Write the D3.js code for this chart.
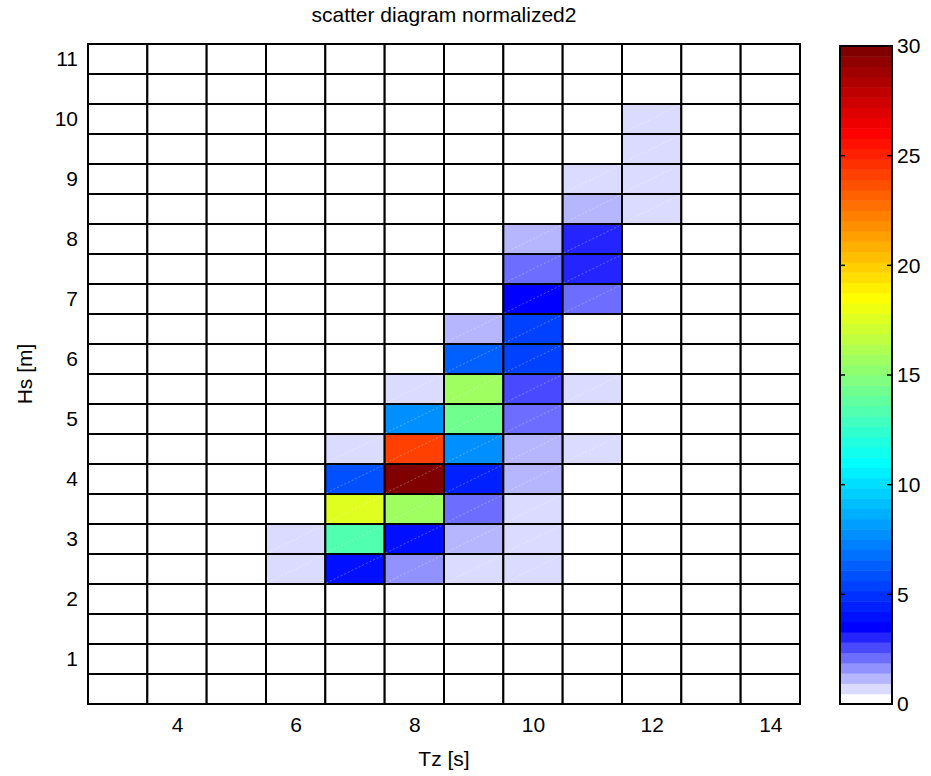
<!DOCTYPE html>
<html>
<head>
<meta charset="utf-8">
<script src="https://cdn.jsdelivr.net/npm/d3@7"></script>
<style>
  body { margin: 0; background: #fff; }
  text { font-family: "Liberation Sans", Arial, sans-serif; fill: #000; }
</style>
</head>
<body>
<div id="chart"></div>
<script>
const tzValues = [3, 4, 5, 6, 7, 8, 9, 10, 11, 12, 13, 14];
const hsValues = [11, 10.5, 10, 9.5, 9, 8.5, 8, 7.5, 7, 6.5, 6, 5.5, 5, 4.5, 4, 3.5, 3, 2.5, 2, 1.5, 1, 0.5];
// one row per Hs class (top to bottom), one column per Tz
const frequency = [
    [0, 0, 0, 0,   0,    0,    0,   0,   0,   0,   0, 0],  // 11
    [0, 0, 0, 0,   0,    0,    0,   0,   0,   0,   0, 0],  // 10.5
    [0, 0, 0, 0,   0,    0,    0,   0,   0,   0.7, 0, 0],  // 10
    [0, 0, 0, 0,   0,    0,    0,   0,   0,   0.7, 0, 0],  // 9.5
    [0, 0, 0, 0,   0,    0,    0,   0,   0.7, 0.7, 0, 0],  // 9
    [0, 0, 0, 0,   0,    0,    0,   0,   1.2, 0.7, 0, 0],  // 8.5
    [0, 0, 0, 0,   0,    0,    0,   1.2, 3.0, 0,   0, 0],  // 8
    [0, 0, 0, 0,   0,    0,    0,   2.1, 3.0, 0,   0, 0],  // 7.5
    [0, 0, 0, 0,   0,    0,    0,   3.5, 2.1, 0,   0, 0],  // 7
    [0, 0, 0, 0,   0,    0,    1.2, 5.4, 0,   0,   0, 0],  // 6.5
    [0, 0, 0, 0,   0,    0,    6.3, 5.4, 0,   0,   0, 0],  // 6
    [0, 0, 0, 0,   0,    0.7, 15.7, 2.6, 0.7, 0,   0, 0],  // 5.5
    [0, 0, 0, 0,   0,    7.7, 14.3, 2.1, 0,   0,   0, 0],  // 5
    [0, 0, 0, 0,   0.7, 24.1,  7.7, 1.2, 0.7, 0,   0, 0],  // 4.5
    [0, 0, 0, 0,   5.9, 29.9,  4.5, 1.2, 0,   0,   0, 0],  // 4
    [0, 0, 0, 0,  17.6, 15.7,  2.1, 0.7, 0,   0,   0, 0],  // 3.5
    [0, 0, 0, 0.7, 13.4, 4.0,  1.2, 0.7, 0,   0,   0, 0],  // 3
    [0, 0, 0, 0.7,  4.0, 1.6,  0.7, 0.7, 0,   0,   0, 0],  // 2.5
    [0, 0, 0, 0,   0,    0,    0,   0,   0,   0,   0, 0],  // 2
    [0, 0, 0, 0,   0,    0,    0,   0,   0,   0,   0, 0],  // 1.5
    [0, 0, 0, 0,   0,    0,    0,   0,   0,   0,   0, 0],  // 1
    [0, 0, 0, 0,   0,    0,    0,   0,   0,   0,   0, 0]   // 0.5
];
const xTicks = [4, 6, 8, 10, 12, 14];
const yTicks = [1, 2, 3, 4, 5, 6, 7, 8, 9, 10, 11];
const cbTicks = [0, 5, 10, 15, 20, 25, 30];
const chartTitle = 'scatter diagram normalized2';
const xTitle = 'Tz [s]';
const yTitle = 'Hs [m]';

const width = 931, height = 776;
const fontSize = 21;

// 64 level map: white -> blue ramp for the first 8 levels, then jet
const levels = d3.range(64).map(i => {
    if (i < 8) {
        const k = Math.round(255 * (1 - i / 7));
        return d3.rgb(k, k, 255).formatHex();
    }
    const n = i + 1;
    const r = n <= 24 ? 0 : n <= 40 ? (n - 24) / 16 : n <= 56 ? 1 : (72 - n) / 16;
    const g = n <= 8 ? 0 : n <= 24 ? (n - 8) / 16 : n <= 40 ? 1 : n <= 55 ? (56 - n) / 16 : 0;
    const b = n <= 8 ? (n + 8) / 16 : n <= 24 ? 1 : n <= 39 ? (40 - n) / 16 : 0;
    return d3.rgb(r * 255, g * 255, b * 255).formatHex();
});
const color = d3.scaleQuantize().domain([0, 30]).range(levels);

const x = d3.scaleLinear().domain([2.5, 14.5]).range([88, 800]);
const y = d3.scaleLinear().domain([0.25, 11.25]).range([704, 44]);
const cb = d3.scaleLinear().domain([0, 30]).range([704, 46]);
const cbLeft = 840, cbRight = 892;

const svg = d3.select('#chart')
    .append('svg')
    .attr('width', width)
    .attr('height', height);

const cells = [];
frequency.forEach((row, r) => row.forEach((v, c) => cells.push({hs: hsValues[r], tz: tzValues[c], v: v})));

svg.append('g')
    .selectAll('rect')
    .data(cells)
    .enter()
    .append('rect')
        .attr('x', d => x(d.tz - 0.5))
        .attr('y', d => y(d.hs + 0.25))
        .attr('width', d => x(d.tz + 0.5) - x(d.tz - 0.5))
        .attr('height', d => y(d.hs - 0.25) - y(d.hs + 0.25))
        .attr('fill', d => color(d.v))
        .attr('stroke', '#000')
        .attr('stroke-width', 2);

// faint seam across each filled patch, as in the original render
svg.append('g')
    .selectAll('line')
    .data(cells.filter(d => d.v > 0))
    .enter()
    .append('line')
        .attr('x1', d => x(d.tz - 0.5) + 1)
        .attr('y1', d => y(d.hs - 0.25) - 1)
        .attr('x2', d => x(d.tz + 0.5) - 1)
        .attr('y2', d => y(d.hs + 0.25) + 1)
        .attr('stroke', '#fff')
        .attr('stroke-opacity', 0.3)
        .attr('stroke-dasharray', '2,2');

svg.append('rect')
    .attr('x', x(2.5)).attr('y', y(11.25))
    .attr('width', x(14.5) - x(2.5)).attr('height', y(0.25) - y(11.25))
    .attr('fill', 'none').attr('stroke', '#000').attr('stroke-width', 2);

const xAxis = svg.append('g')
    .attr('transform', `translate(0,${y(0.25)})`)
    .call(d3.axisBottom(x).tickValues(xTicks).tickSize(0).tickPadding(13));
const yAxis = svg.append('g')
    .attr('transform', `translate(${x(2.5)},0)`)
    .call(d3.axisLeft(y).tickValues(yTicks).tickSize(0).tickPadding(10));
[xAxis, yAxis].forEach(a => {
    a.select('.domain').remove();
    a.selectAll('text').attr('font-size', fontSize).attr('font-family', null).attr('fill', '#000');
});

// colorbar
svg.append('g')
    .selectAll('rect')
    .data(levels)
    .enter()
    .append('rect')
        .attr('x', cbLeft)
        .attr('y', (d, i) => cb((i + 1) * 30 / 64))
        .attr('width', cbRight - cbLeft)
        .attr('height', cb(0) - cb(30 / 64) + 0.5)
        .attr('fill', d => d);

svg.append('rect')
    .attr('x', cbLeft).attr('y', cb(30))
    .attr('width', cbRight - cbLeft).attr('height', cb(0) - cb(30))
    .attr('fill', 'none').attr('stroke', '#000').attr('stroke-width', 2);

const cbAxis = svg.append('g')
    .attr('transform', `translate(${cbRight},0)`)
    .call(d3.axisRight(cb).tickValues(cbTicks).tickSize(0).tickPadding(5));
cbAxis.select('.domain').remove();
cbAxis.selectAll('text').attr('font-size', fontSize).attr('font-family', null).attr('fill', '#000');

svg.append('g')
    .selectAll('g')
    .data(cbTicks.slice(1, -1))
    .enter()
    .append('g')
    .each(function (d) {
        d3.select(this).append('line')
            .attr('x1', cbLeft).attr('x2', cbLeft + 5).attr('y1', cb(d)).attr('y2', cb(d))
            .attr('stroke', '#000').attr('stroke-width', 1.5);
        d3.select(this).append('line')
            .attr('x1', cbRight - 5).attr('x2', cbRight).attr('y1', cb(d)).attr('y2', cb(d))
            .attr('stroke', '#000').attr('stroke-width', 1.5);
    });

svg.append('text')
    .attr('x', (x(2.5) + x(14.5)) / 2)
    .attr('y', 22)
    .attr('text-anchor', 'middle')
    .attr('font-size', fontSize)
    .text(chartTitle);

svg.append('text')
    .attr('x', (x(2.5) + x(14.5)) / 2)
    .attr('y', 766)
    .attr('text-anchor', 'middle')
    .attr('font-size', fontSize)
    .text(xTitle);

svg.append('text')
    .attr('transform', `translate(32,${(y(0.25) + y(11.25)) / 2}) rotate(-90)`)
    .attr('text-anchor', 'middle')
    .attr('font-size', fontSize)
    .text(yTitle);
</script>
</body>
</html>
